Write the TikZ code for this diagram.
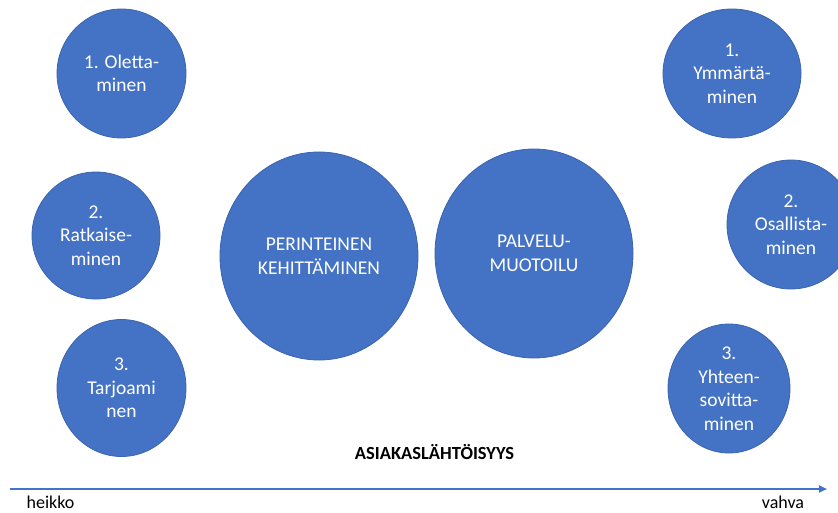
\documentclass[tikz,border=0pt]{standalone}
\usepackage{fontspec}
\setmainfont{Carlito}
\usetikzlibrary{shapes.geometric,arrows.meta}
\definecolor{bubble}{HTML}{4472C4}
\definecolor{bubbleedge}{HTML}{3B64AE}
\begin{document}
\begin{tikzpicture}[x=1pt,y=-1pt,
  bub/.style={ellipse,fill=bubble,draw=bubbleedge,line width=0.8pt,inner sep=0pt,
    text=white,align=center,font=\fontsize{19.5}{23.5}\selectfont},
  lbl/.style={text=black,inner sep=0pt,font=\fontsize{18}{22}\selectfont}]
\clip (0,0) rectangle (838,513);
\fill[white] (0,0) rectangle (838,513);
% left column
\node[bub,minimum width=129,minimum height=129] (o1) at (121.5,73.5) {1. Oletta-\\minen};
\node[bub,minimum width=128,minimum height=127] (o2) at (96,235.5) {2.\\Ratkaise-\\minen};
\node[bub,minimum width=129,minimum height=137] (o3) at (121.5,388) {3.\\Tarjoami\\nen};
% centre
\node[bub,minimum width=198,minimum height=208] (per) at (319,256) {PERINTEINEN\\KEHITTÄMINEN};
\node[bub,minimum width=198,minimum height=209] (pal) at (534,253.5) {PALVELU-\\MUOTOILU};
% right column
\node[bub,minimum width=138,minimum height=129] (y1) at (732,73.5) {1.\\Ymmärtä-\\minen};
\node[bub,minimum width=128,minimum height=129] (y2) at (791,224.5) {2.\\Osallista-\\minen};
\node[bub,minimum width=122,minimum height=129] (y3) at (729,388.5) {3.\\Yhteen-\\sovitta-\\minen};
% axis
\node[lbl,font=\fontsize{18.5}{22}\selectfont\bfseries] (axis) at (434.5,452) {ASIAKASLÄHTÖISYYS};
\coordinate (a0) at (10,489);
\coordinate (a1) at (827,489);
\draw[bubble,line width=2pt,-{Triangle[length=8pt,width=7pt]}] (a0) -- (a1);
\node[lbl] (weak) at (50.5,502.5) {heikko};
\node[lbl] (strong) at (783,502.5) {vahva};
\end{tikzpicture}
\end{document}
